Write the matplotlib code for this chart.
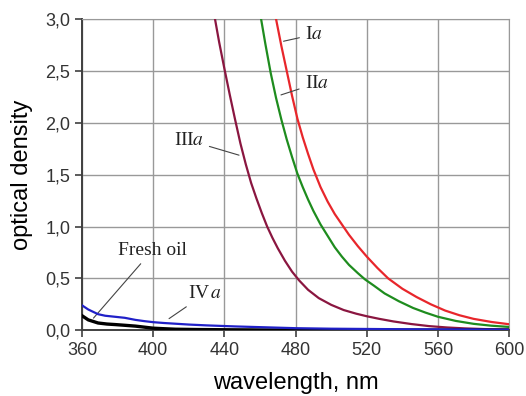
#!/usr/bin/env python3

import matplotlib
matplotlib.use('Agg')
import matplotlib.pyplot as plt
from matplotlib.ticker import FuncFormatter

# curve readings (wavelength nm, optical density)
wl_Ia = [469, 472, 475, 478, 481, 484, 487, 490, 494, 498, 502, 506, 510, 515, 520, 526, 532, 540, 548, 556, 564, 572, 580, 590, 600]
od_Ia = [3.00, 2.74, 2.50, 2.26, 2.04, 1.86, 1.70, 1.55, 1.38, 1.24, 1.12, 1.02, 0.92, 0.81, 0.71, 0.60, 0.50, 0.40, 0.32, 0.25, 0.19, 0.145, 0.11, 0.08, 0.058]

wl_IIa = [460.6, 463, 466, 469, 472, 475, 478, 481, 484, 487, 490, 494, 498, 502, 506, 510, 515, 519, 524, 530, 538, 546, 553, 560, 570, 580, 590, 600]
od_IIa = [3.00, 2.76, 2.48, 2.24, 2.03, 1.84, 1.67, 1.51, 1.38, 1.26, 1.15, 1.02, 0.91, 0.80, 0.71, 0.63, 0.55, 0.49, 0.43, 0.355, 0.28, 0.215, 0.17, 0.13, 0.09, 0.062, 0.044, 0.032]

wl_IIIa = [434.7, 437, 440, 443, 446, 449, 452, 455, 458, 461, 464, 467, 470, 474, 478, 482, 487, 493, 500, 507, 514, 520, 527, 535, 545, 555, 565, 575, 587, 600]
od_IIIa = [3.00, 2.78, 2.52, 2.27, 2.03, 1.80, 1.60, 1.42, 1.27, 1.13, 1.00, 0.89, 0.79, 0.67, 0.565, 0.48, 0.39, 0.31, 0.245, 0.195, 0.16, 0.135, 0.11, 0.085, 0.06, 0.04, 0.027, 0.018, 0.011, 0.007]

wl_IVa = [360, 363.5, 369, 373, 378.5, 384, 390, 395, 400, 406, 412.5, 420, 430, 446, 460, 480, 500, 540, 600]
od_IVa = [0.24, 0.2, 0.155, 0.14, 0.13, 0.12, 0.1, 0.088, 0.078, 0.07, 0.063, 0.055, 0.047, 0.037, 0.03, 0.02, 0.015, 0.01, 0.006]

wl_fresh = [360, 363.5, 369, 374, 378.5, 384, 390, 395, 400, 406, 412.5, 425, 440, 460, 500, 600]
od_fresh = [0.14, 0.1, 0.07, 0.06, 0.055, 0.048, 0.04, 0.03, 0.02, 0.015, 0.01, 0.007, 0.005, 0.003, 0.002, 0.001]

xticks = [360, 400, 440, 480, 520, 560, 600]
yticks = [0.0, 0.5, 1.0, 1.5, 2.0, 2.5, 3.0]

plt.rcParams['mathtext.fontset'] = 'stix'

fig = plt.figure(figsize=(5.26, 3.96), dpi=100)
ax = fig.add_axes([0.156, 0.166, 0.812, 0.786])

ax.plot(wl_Ia, od_Ia, color='#e8262b', lw=1.6, zorder=3)
ax.plot(wl_IIa, od_IIa, color='#1e8c1e', lw=1.6, zorder=3)
ax.plot(wl_IIIa, od_IIIa, color='#8a1640', lw=1.6, zorder=3)
ax.plot(wl_fresh, od_fresh, color='black', lw=2.4, zorder=3)
ax.plot(wl_IVa, od_IVa, color='#2020c8', lw=1.6, zorder=4)

ax.set_xlim(360, 600)
ax.set_ylim(0, 3.0)
ax.set_xticks(xticks)
ax.set_yticks(yticks)
ax.yaxis.set_major_formatter(FuncFormatter(lambda v, p: f'{v:.1f}'.replace('.', ',')))
ax.grid(True, color='#999999', lw=1.0)
ax.set_axisbelow(True)
for s in ['top', 'right']:
    ax.spines[s].set_color('#999999')
for s in ['left', 'bottom']:
    ax.spines[s].set_color('#404040')
    ax.spines[s].set_linewidth(1.4)
ax.tick_params(direction='out', length=5, width=1.2, color='#404040',
               labelsize=13, labelcolor='#333333')
for lab in ax.get_xticklabels() + ax.get_yticklabels():
    lab.set_family('Liberation Sans')

ax.set_xlabel('wavelength, nm', fontsize=17, family='Liberation Sans', labelpad=9)
ax.set_ylabel('optical density', fontsize=17, family='Liberation Sans', labelpad=9)

# labels with leader lines
serif = dict(fontsize=14, family='Liberation Serif', color='#222222')
lead = dict(arrowstyle='-', color='#444444', lw=0.8)
ax.annotate(r'I$\mathit{a}$', xy=(471.7, 2.78), xytext=(485.2, 2.85),
            ha='left', va='center', arrowprops=lead, **serif)
ax.annotate(r'II$\mathit{a}$', xy=(470.3, 2.26), xytext=(485.0, 2.38),
            ha='left', va='center', arrowprops=lead, **serif)
ax.annotate(r'III$\mathit{a}$', xy=(449.7, 1.68), xytext=(428.5, 1.83),
            ha='right', va='center', arrowprops=lead, **serif)
ax.annotate('Fresh oil', xy=(365.4, 0.097), xytext=(399.5, 0.77),
            ha='center', va='center', arrowprops=lead, **serif)
ax.annotate(r'IV$\,\mathit{a}$', xy=(407.6, 0.097), xytext=(419.5, 0.35),
            ha='left', va='center', arrowprops=lead, **serif)

plt.savefig('out.png', dpi=100)
